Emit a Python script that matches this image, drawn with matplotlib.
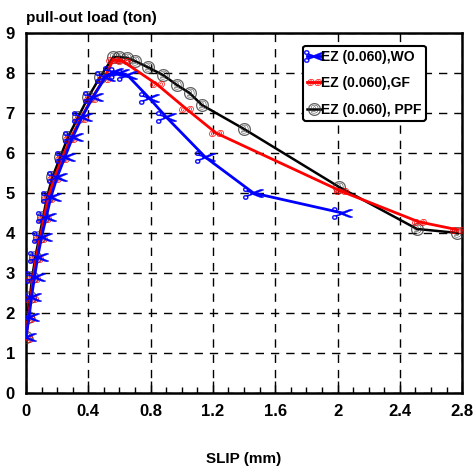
import matplotlib.pyplot as plt
from matplotlib.ticker import MultipleLocator

plt.rcParams['font.family'] = ['Liberation Sans', 'DejaVu Sans']
plt.rcParams['font.weight'] = 'bold'

# slip (mm) vs pull-out load (ton)
wo_slip = [0.0, 0.02, 0.035, 0.055, 0.075, 0.10, 0.13, 0.16, 0.20, 0.25, 0.30, 0.36, 0.43, 0.51,
           0.56, 0.60, 0.65, 0.79, 0.90, 1.15, 1.46, 2.03]
wo_load = [1.4, 1.9, 2.4, 2.9, 3.4, 3.9, 4.4, 4.9, 5.4, 5.9, 6.4, 6.9, 7.4, 7.9,
           8.03, 8.0, 7.95, 7.38, 6.9, 5.9, 5.0, 4.5]

gf_slip = [0.0, 0.015, 0.03, 0.045, 0.065, 0.09, 0.115, 0.14, 0.18, 0.23, 0.285, 0.35, 0.42, 0.50,
           0.56, 0.62, 0.84, 1.03, 1.22, 2.02, 2.52, 2.77]
gf_load = [1.35, 1.85, 2.35, 2.85, 3.35, 3.85, 4.35, 4.85, 5.35, 5.85, 6.35, 6.85, 7.35, 7.85,
           8.33, 8.3, 7.72, 7.1, 6.5, 5.05, 4.28, 4.08]

ppf_slip = [0.0, 0.01, 0.025, 0.04, 0.06, 0.085, 0.11, 0.135, 0.17, 0.22, 0.27, 0.335, 0.40, 0.475,
            0.56, 0.60, 0.65, 0.70, 0.78, 0.88, 0.97, 1.05, 1.13, 1.40, 2.01, 2.51, 2.77]
ppf_load = [1.4, 1.9, 2.4, 2.9, 3.4, 3.9, 4.4, 4.9, 5.4, 5.9, 6.4, 6.9, 7.4, 7.9,
            8.4, 8.4, 8.38, 8.3, 8.15, 7.95, 7.7, 7.5, 7.2, 6.6, 5.15, 4.1, 4.0]

fig = plt.figure(figsize=(4.73, 4.66), dpi=100)
ax = fig.add_axes([0.055, 0.157, 0.922, 0.772])

ax.plot(ppf_slip, ppf_load, color='black', lw=1.8, marker='$⑨$', ms=9, mec='#333333', mfc='none',
        mew=0.35, label='EZ (0.060), PPF', zorder=3)
ax.plot(gf_slip, gf_load, color='red', lw=2, marker='$oo$', ms=10, mec='red', mfc='none',
        mew=0.5, label='EZ (0.060),GF', zorder=4)
ax.plot(wo_slip, wo_load, color='blue', lw=2, marker='$✂$', ms=15, mec='blue', mfc='blue',
        mew=0.2, label='EZ (0.060),WO', zorder=5)

ax.set_xlim(0, 2.8)
ax.set_ylim(0, 9)
ax.xaxis.set_minor_locator(MultipleLocator(0.1))
ax.yaxis.set_major_locator(MultipleLocator(1))
ax.set_xticks([0, 0.4, 0.8, 1.2, 1.6, 2, 2.4, 2.8])
ax.set_xticklabels(['0', '0.4', '0.8', '1.2', '1.6', '2', '2.4', '2.8'])
ax.tick_params(axis='x', which='major', direction='in', length=9, width=1, labelsize=12, pad=8)
ax.tick_params(axis='x', which='minor', direction='in', length=4, width=1)
ax.tick_params(axis='y', which='major', length=0, labelsize=12, pad=8)
for lbl in ax.get_xticklabels() + ax.get_yticklabels():
    lbl.set_fontweight('bold')

ax.grid(True, which='major', color='black', ls=(0, (6, 5)), lw=1)
for s in ax.spines.values():
    s.set_linewidth(1.8)

ax.set_xlabel('SLIP (mm)', fontsize=11, fontweight='bold', labelpad=24)
fig.text(0.055, 0.962, 'pull-out load (ton)', fontsize=11, fontweight='bold', ha='left', va='center')

handles, labels = ax.get_legend_handles_labels()
leg = ax.legend(handles[::-1], labels[::-1], loc='upper left', bbox_to_anchor=(0.635, 0.965),
                fontsize=10, handlelength=1.0, handletextpad=0.0, borderpad=0.3,
                labelspacing=0.9, fancybox=True, framealpha=1, edgecolor='black',
                borderaxespad=0)
leg.get_frame().set_linewidth(1.5)
for t in leg.get_texts():
    t.set_fontweight('bold')

fig.savefig('out.png', dpi=100)
